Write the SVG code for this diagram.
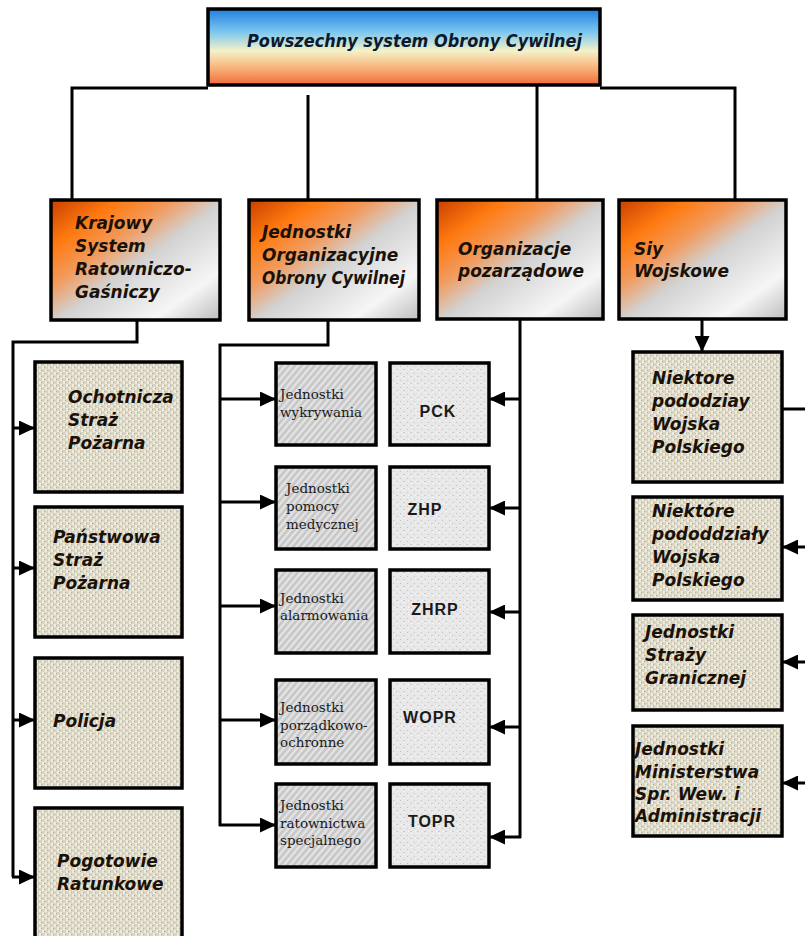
<svg xmlns="http://www.w3.org/2000/svg" width="805" height="936" viewBox="0 0 805 936">
<style>
.bx{stroke:#000;stroke-width:3.5}
.ln{fill:none;stroke:#000;stroke-width:3}
.ar{fill:none;stroke:#000;stroke-width:3;marker-end:url(#arr)}
.hd{font-family:"DejaVu Sans","Liberation Sans",sans-serif;font-weight:bold;font-style:italic;font-size:17px;fill:#1a1208}
.tt{font-family:"DejaVu Sans","Liberation Sans",sans-serif;font-weight:bold;font-style:italic;font-size:18px;fill:#0a1a30}
.sr{font-family:"DejaVu Serif","Liberation Serif",serif;font-size:13.5px;fill:#1a1a1a}
.ab{font-family:"Liberation Sans",Arial,sans-serif;font-weight:bold;font-size:16px;letter-spacing:1px;fill:#1a1a1a;text-anchor:middle}
</style>
<defs>
<linearGradient id="gTop" x1="0" y1="0" x2="0" y2="1">
<stop offset="0" stop-color="#1f7fe0"/>
<stop offset="0.3" stop-color="#7cc6f0"/>
<stop offset="0.55" stop-color="#f4f2c8"/>
<stop offset="0.78" stop-color="#f8b278"/>
<stop offset="1" stop-color="#f06a38"/>
</linearGradient>
<linearGradient id="gHd" x1="0" y1="0" x2="1" y2="1">
<stop offset="0" stop-color="#c84000"/>
<stop offset="0.2" stop-color="#ff7a10"/>
<stop offset="0.36" stop-color="#f29a5c"/>
<stop offset="0.52" stop-color="#d2d2d2"/>
<stop offset="0.8" stop-color="#f6f6f6"/>
<stop offset="1" stop-color="#bdbdbd"/>
</linearGradient>
<pattern id="canvas" width="6" height="6" patternUnits="userSpaceOnUse">
<rect width="6" height="6" fill="#dad5c3"/>
<rect x="0" y="0" width="2" height="3" fill="#eeebdf"/>
<rect x="3" y="3" width="2" height="3" fill="#eeebdf"/>
<rect x="2" y="1" width="1" height="1" fill="#b3ad98"/>
<rect x="5" y="4" width="1" height="1" fill="#b3ad98"/>
</pattern>
<pattern id="hatch" width="5" height="5" patternUnits="userSpaceOnUse" patternTransform="rotate(40)">
<rect width="5" height="5" fill="#d9d9d9"/>
<line x1="1" y1="0" x2="1" y2="5" stroke="#bebebe" stroke-width="1.4"/>
<line x1="3.5" y1="0" x2="3.5" y2="5" stroke="#e8e8e8" stroke-width="1"/>
</pattern>
<pattern id="speck" width="7" height="7" patternUnits="userSpaceOnUse">
<rect width="7" height="7" fill="#e8e8e8"/>
<rect x="1" y="2" width="1" height="1" fill="#c2c2c2"/>
<rect x="4" y="5" width="2" height="1" fill="#cdcdcd"/>
<rect x="5" y="0" width="1" height="1" fill="#fbfbfb"/>
<rect x="2" y="5" width="1" height="1" fill="#f8f8f8"/>
</pattern>
<marker id="arr" viewBox="0 0 10 10" refX="10" refY="5" markerWidth="16" markerHeight="15" markerUnits="userSpaceOnUse" orient="auto" preserveAspectRatio="none">
<path d="M0,0 L10,5 L0,10 z" fill="#000"/>
</marker>
</defs>
<rect width="805" height="936" fill="#fff"/>

<g id="connectors">
<path class="ln" d="M72,200 V88 H208"/>
<path class="ln" d="M600,88 H735 V200"/>
<path class="ln" d="M308,95 V200"/>
<path class="ln" d="M537,85 V200"/>
<path class="ln" d="M137,320 V342 H13 V877"/>
<path class="ar" d="M12,428 H35"/>
<path class="ar" d="M12,568 H35"/>
<path class="ar" d="M12,720 H35"/>
<path class="ar" d="M12,877 H35"/>
<path class="ln" d="M328,320 V345 H220 V826"/>
<path class="ar" d="M219,399 H276"/>
<path class="ar" d="M219,502 H276"/>
<path class="ar" d="M219,606 H276"/>
<path class="ar" d="M219,720 H276"/>
<path class="ar" d="M219,825 H276"/>
<path class="ln" d="M520,320 V838"/>
<path class="ar" d="M521,399 H489"/>
<path class="ar" d="M521,508 H489"/>
<path class="ar" d="M521,612 H489"/>
<path class="ar" d="M521,727 H489"/>
<path class="ar" d="M521,837 H489"/>
<path class="ar" d="M702,320 V352"/>
<path class="ln" d="M782,409 H808 V783"/>
<path class="ar" d="M809,547 H782"/>
<path class="ar" d="M809,662 H782"/>
<path class="ar" d="M809,783 H782"/>
</g>

<g id="top">
<rect class="bx" x="208" y="9" width="392" height="76" fill="url(#gTop)"/>
<text class="tt" x="247" y="47" textLength="335" lengthAdjust="spacingAndGlyphs">Powszechny system Obrony Cywilnej</text>
</g>

<g id="h1">
<rect class="bx" x="51" y="200" width="169" height="120" fill="url(#gHd)"/>
<text class="hd"><tspan x="75" y="229">Krajowy</tspan><tspan x="75" y="252">System</tspan><tspan x="75" y="275">Ratowniczo-</tspan><tspan x="75" y="298">Gaśniczy</tspan></text>
</g>
<g id="h2">
<rect class="bx" x="249" y="200" width="170" height="120" fill="url(#gHd)"/>
<text class="hd"><tspan x="262" y="238">Jednostki</tspan><tspan x="262" y="261">Organizacyjne</tspan><tspan x="262" y="284" textLength="143" lengthAdjust="spacingAndGlyphs">Obrony Cywilnej</tspan></text>
</g>
<g id="h3">
<rect class="bx" x="437" y="200" width="166" height="119" fill="url(#gHd)"/>
<text class="hd"><tspan x="458" y="255">Organizacje</tspan><tspan x="458" y="277">pozarządowe</tspan></text>
</g>
<g id="h4">
<rect class="bx" x="619" y="200" width="167" height="119" fill="url(#gHd)"/>
<text class="hd"><tspan x="634" y="255">Siy</tspan><tspan x="634" y="277">Wojskowe</tspan></text>
</g>

<g id="osp">
<rect class="bx" x="35" y="362" width="147" height="130" fill="url(#canvas)"/>
<text class="hd"><tspan x="68" y="403">Ochotnicza</tspan><tspan x="68" y="426">Straż</tspan><tspan x="68" y="449">Pożarna</tspan></text>
</g>
<g id="psp">
<rect class="bx" x="35" y="507" width="147" height="130" fill="url(#canvas)"/>
<text class="hd"><tspan x="53" y="543">Państwowa</tspan><tspan x="53" y="566">Straż</tspan><tspan x="53" y="589">Pożarna</tspan></text>
</g>
<g id="policja">
<rect class="bx" x="35" y="658" width="147" height="130" fill="url(#canvas)"/>
<text class="hd" x="53" y="727">Policja</text>
</g>
<g id="pogotowie">
<rect class="bx" x="35" y="808" width="147" height="140" fill="url(#canvas)"/>
<text class="hd"><tspan x="57" y="867">Pogotowie</tspan><tspan x="57" y="890">Ratunkowe</tspan></text>
</g>

<g id="j1">
<rect class="bx" x="276" y="363" width="100" height="82" fill="url(#hatch)"/>
<text class="sr"><tspan x="280" y="399">Jednostki</tspan><tspan x="280" y="417">wykrywania</tspan></text>
</g>
<g id="j2">
<rect class="bx" x="276" y="467" width="100" height="82" fill="url(#hatch)"/>
<text class="sr"><tspan x="286" y="493">Jednostki</tspan><tspan x="286" y="511">pomocy</tspan><tspan x="286" y="529">medycznej</tspan></text>
</g>
<g id="j3">
<rect class="bx" x="276" y="570" width="100" height="83" fill="url(#hatch)"/>
<text class="sr"><tspan x="280" y="603">Jednostki</tspan><tspan x="280" y="620">alarmowania</tspan></text>
</g>
<g id="j4">
<rect class="bx" x="276" y="680" width="100" height="84" fill="url(#hatch)"/>
<text class="sr"><tspan x="280" y="712">Jednostki</tspan><tspan x="280" y="730">porządkowo-</tspan><tspan x="280" y="747">ochronne</tspan></text>
</g>
<g id="j5">
<rect class="bx" x="276" y="784" width="100" height="83" fill="url(#hatch)"/>
<text class="sr"><tspan x="280" y="810">Jednostki</tspan><tspan x="280" y="828">ratownictwa</tspan><tspan x="280" y="845">specjalnego</tspan></text>
</g>

<g id="pck">
<rect class="bx" x="390" y="363" width="99" height="82" fill="url(#speck)"/>
<text class="ab" x="438" y="417">PCK</text>
</g>
<g id="zhp">
<rect class="bx" x="390" y="467" width="99" height="82" fill="url(#speck)"/>
<text class="ab" x="425" y="515">ZHP</text>
</g>
<g id="zhrp">
<rect class="bx" x="390" y="570" width="99" height="83" fill="url(#speck)"/>
<text class="ab" x="435" y="615">ZHRP</text>
</g>
<g id="wopr">
<rect class="bx" x="390" y="680" width="99" height="84" fill="url(#speck)"/>
<text class="ab" x="430" y="723">WOPR</text>
</g>
<g id="topr">
<rect class="bx" x="390" y="784" width="99" height="83" fill="url(#speck)"/>
<text class="ab" x="432" y="827">TOPR</text>
</g>

<g id="wp1">
<rect class="bx" x="633" y="352" width="149" height="130" fill="url(#canvas)"/>
<text class="hd"><tspan x="652" y="384">Niektore</tspan><tspan x="652" y="407">pododziay</tspan><tspan x="652" y="430">Wojska</tspan><tspan x="652" y="453">Polskiego</tspan></text>
</g>
<g id="wp2">
<rect class="bx" x="633" y="497" width="149" height="103" fill="url(#canvas)"/>
<text class="hd"><tspan x="652" y="517">Niektóre</tspan><tspan x="652" y="540">pododdziały</tspan><tspan x="652" y="563">Wojska</tspan><tspan x="652" y="586">Polskiego</tspan></text>
</g>
<g id="sg">
<rect class="bx" x="633" y="615" width="149" height="95" fill="url(#canvas)"/>
<text class="hd"><tspan x="645" y="638">Jednostki</tspan><tspan x="645" y="661">Straży</tspan><tspan x="645" y="684">Granicznej</tspan></text>
</g>
<g id="mswia">
<rect class="bx" x="633" y="726" width="149" height="110" fill="url(#canvas)"/>
<text class="hd"><tspan x="635" y="755">Jednostki</tspan><tspan x="635" y="778">Ministerstwa</tspan><tspan x="635" y="800">Spr. Wew. i</tspan><tspan x="635" y="822">Administracji</tspan></text>
</g>
</svg>
